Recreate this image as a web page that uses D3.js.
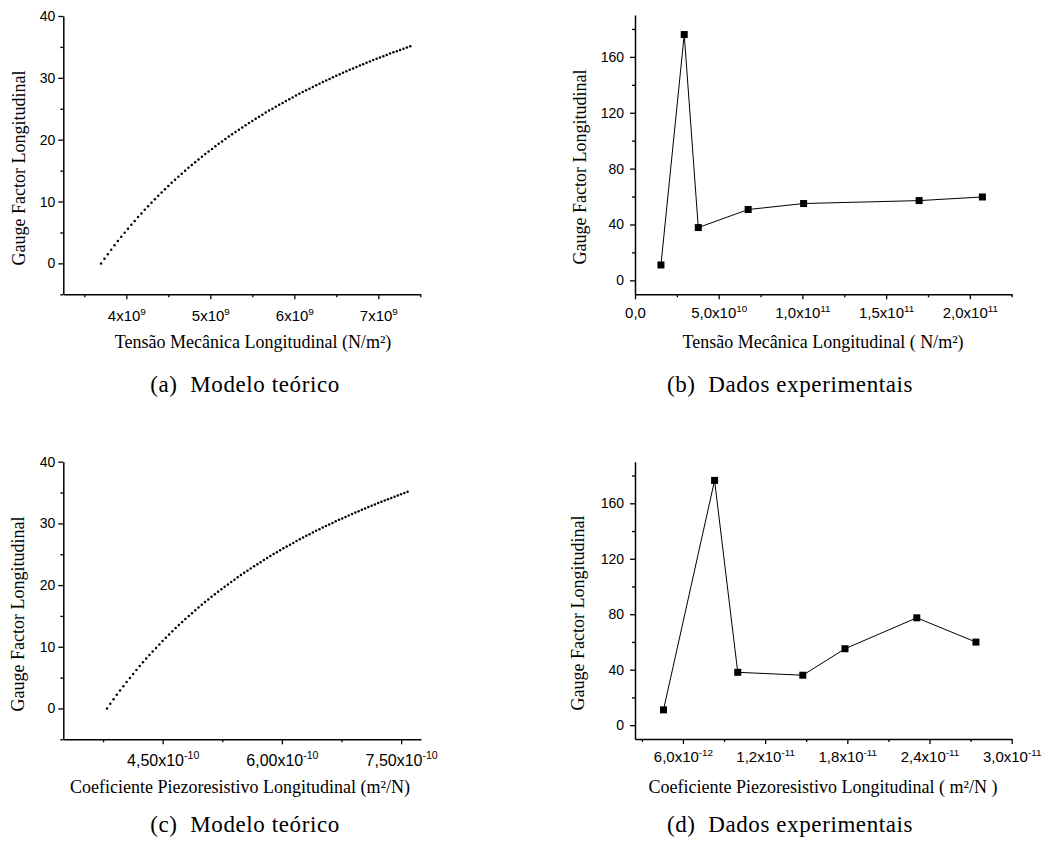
<!DOCTYPE html>
<html>
<head>
<meta charset="utf-8">
<script src="https://cdn.jsdelivr.net/npm/d3@7"></script>
<style>
  body { margin: 0; background: #fff; }
  svg { display: block; }
  .tickfont { font-family: "Liberation Sans", Arial, sans-serif; }
  .serif { font-family: "Liberation Serif", "Times New Roman", serif; }
</style>
</head>
<body>
<svg id="fig" width="1050" height="848"></svg>
<script>
// theoretical model: tension (x1e9 N/m2), piezo coefficient (x1e-10 m2/N), gauge factor
const sigma = [
  3.70,3.74,3.78,3.82,3.86,3.90,3.94,3.98,4.02,4.06,
  4.10,4.14,4.18,4.22,4.26,4.30,4.34,4.38,4.42,4.46,
  4.50,4.54,4.58,4.62,4.66,4.70,4.74,4.78,4.82,4.86,
  4.90,4.94,4.98,5.02,5.06,5.10,5.14,5.18,5.22,5.26,
  5.30,5.34,5.38,5.42,5.46,5.50,5.54,5.58,5.62,5.66,
  5.70,5.74,5.78,5.82,5.86,5.90,5.94,5.98,6.02,6.06,
  6.10,6.14,6.18,6.22,6.26,6.30,6.34,6.38,6.42,6.46,
  6.50,6.54,6.58,6.62,6.66,6.70,6.74,6.78,6.82,6.86,
  6.90,6.94,6.98,7.02,7.06,7.10,7.14,7.18,7.22,7.26,
  7.30,7.34,7.38
]
const piCoef = [
  3.800,3.841,3.882,3.923,3.964,4.006,4.047,4.088,4.129,4.170,
  4.211,4.252,4.293,4.334,4.375,4.417,4.458,4.499,4.540,4.581,
  4.622,4.663,4.704,4.745,4.786,4.828,4.869,4.910,4.951,4.992,
  5.033,5.074,5.115,5.156,5.197,5.239,5.280,5.321,5.362,5.403,
  5.444,5.485,5.526,5.567,5.608,5.650,5.691,5.732,5.773,5.814,
  5.855,5.896,5.937,5.978,6.019,6.061,6.102,6.143,6.184,6.225,
  6.266,6.307,6.348,6.389,6.430,6.472,6.513,6.554,6.595,6.636,
  6.677,6.718,6.759,6.800,6.841,6.883,6.924,6.965,7.006,7.047,
  7.088,7.129,7.170,7.211,7.252,7.294,7.335,7.376,7.417,7.458,
  7.499,7.540,7.581
]
const gfModel = [
  0.00,0.75,1.49,2.21,2.92,3.61,4.29,4.95,5.60,6.24,
  6.87,7.48,8.08,8.68,9.25,9.82,10.38,10.93,11.47,12.00,
  12.52,13.03,13.53,14.02,14.50,14.98,15.45,15.91,16.36,16.80,
  17.24,17.67,18.10,18.51,18.92,19.33,19.72,20.11,20.50,20.88,
  21.25,21.62,21.98,22.34,22.69,23.04,23.38,23.72,24.05,24.38,
  24.70,25.02,25.33,25.64,25.95,26.25,26.55,26.84,27.13,27.42,
  27.70,27.98,28.25,28.52,28.79,29.05,29.32,29.57,29.83,30.08,
  30.33,30.57,30.81,31.05,31.29,31.52,31.75,31.98,32.21,32.43,
  32.65,32.87,33.08,33.30,33.51,33.71,33.92,34.12,34.32,34.52,
  34.72,34.91,35.11
]

// experimental data
const sigmaExp = [1.55, 2.94, 3.78, 6.76, 10.07, 16.97, 20.75]   // x1e10 N/m2
const gfExpB = [11, 176, 37.8, 50.7, 55, 57.1, 59.7]
const piExp = [4.58, 8.31, 10.0, 14.75, 17.83, 23.07, 27.39]     // x1e-12 m2/N
const gfExpD = [11, 176.5, 38.1, 36, 55.1, 77.4, 59.9]

// ticks
const ticksA = [4, 5, 6, 7], labelsA = ["4x10^9", "5x10^9", "6x10^9", "7x10^9"], minorA = [3.5, 4.5, 5.5, 6.5, 7.5]
const ticksB = [0, 5, 10, 15, 20], labelsB = ["0,0", "5,0x10^10", "1,0x10^11", "1,5x10^11", "2,0x10^11"], minorB = [2.5, 7.5, 12.5, 17.5, 22.5]
const ticksC = [4.5, 6, 7.5], labelsC = ["4,50x10^-10", "6,00x10^-10", "7,50x10^-10"], minorC = [3.75, 5.25, 6.75]
const ticksD = [6, 12, 18, 24, 30], labelsD = ["6,0x10^-12", "1,2x10^-11", "1,8x10^-11", "2,4x10^-11", "3,0x10^-11"], minorD = [3, 9, 15, 21, 27]
const yTicksModel = [0, 10, 20, 30, 40], yMinorModel = [-5, 5, 15, 25, 35]
const yTicksExp = [0, 40, 80, 120, 160], yMinorExp = [20, 60, 100, 140, 180]

const svg = d3.select("#fig")

function drawPanel(p) {
    const x = d3.scaleLinear().domain(p.xDomain).range([p.left, p.right])
    const y = d3.scaleLinear().domain(p.yDomain).range([p.bottom, p.top])
    const g = svg.append("g")

    // minor ticks first
    g.append("g")
        .attr("transform", `translate(0,${p.bottom})`)
        .call(d3.axisBottom(x).tickValues(p.xMinor).tickSize(3).tickSizeOuter(0).tickFormat(""))
        .call(a => a.select(".domain").remove())
    g.append("g")
        .attr("transform", `translate(${p.left},0)`)
        .call(d3.axisLeft(y).tickValues(p.yMinor).tickSize(3).tickSizeOuter(0).tickFormat(""))
        .call(a => a.select(".domain").remove())

    const xAxis = g.append("g")
        .attr("transform", `translate(0,${p.bottom})`)
        .call(d3.axisBottom(x).tickValues(p.xTicks).tickSize(5).tickSizeOuter(0).tickPadding(p.xPad))
    xAxis.selectAll(".tick text").each(function(d) {
        const parts = p.xLabels[p.xTicks.indexOf(d)].split("^")
        const t = d3.select(this).text(null)
        t.append("tspan").text(parts[0])
        if (parts[1]) t.append("tspan").style("font-size", "0.66em").attr("dy", "-0.62em").text(parts[1])
    })
    xAxis.attr("font-family", null).attr("font-size", null)
    xAxis.selectAll(".tick text").attr("class", "tickfont").style("font-size", p.xFont + "px")

    const yAxis = g.append("g")
        .attr("transform", `translate(${p.left},0)`)
        .call(d3.axisLeft(y).tickValues(p.yTicks).tickSize(5).tickSizeOuter(0).tickPadding(p.yPad))
    yAxis.attr("font-family", null).attr("font-size", null)
    yAxis.selectAll(".tick text").attr("class", "tickfont").style("font-size", p.yFont + "px")

    g.selectAll(".domain").attr("stroke-width", 1.5)
    g.selectAll(".tick line").attr("stroke-width", 1.3)
    g.selectAll("text").attr("fill", "#000")

    const pts = p.xs.map((v, i) => [v, p.ys[i]])
    if (p.mode === "dots") {
        g.append("g").selectAll("circle")
            .data(pts)
            .join("circle")
                .attr("cx", d => x(d[0]))
                .attr("cy", d => y(d[1]))
                .attr("r", 1.25)
                .attr("fill", "#000")
    } else {
        g.append("path")
            .datum(pts)
            .attr("fill", "none")
            .attr("stroke", "#000")
            .attr("stroke-width", 1)
            .attr("d", d3.line().x(d => x(d[0])).y(d => y(d[1])))
        g.append("g").selectAll("rect")
            .data(pts)
            .join("rect")
                .attr("x", d => x(d[0]) - 3.5)
                .attr("y", d => y(d[1]) - 3.5)
                .attr("width", 7)
                .attr("height", 7)
                .attr("fill", "#000")
    }

    // axis titles
    g.append("text")
        .attr("class", "serif")
        .attr("x", p.xTitleX).attr("y", p.xTitleY)
        .attr("text-anchor", "middle")
        .style("font-size", "18px")
        .text(p.xTitle)
    g.append("text")
        .attr("class", "serif")
        .attr("transform", `translate(${p.yTitleX},${p.yTitleY}) rotate(-90)`)
        .attr("text-anchor", "middle")
        .style("font-size", "18px")
        .text(p.yTitle)

    // caption
    g.append("text")
        .attr("class", "serif")
        .attr("x", p.capX).attr("y", p.capY)
        .attr("text-anchor", "middle")
        .style("font-size", "23px")
        .style("letter-spacing", "0.6px")
        .style("white-space", "pre")
        .text(p.caption)
}

drawPanel({
    xs: sigma, ys: gfModel, mode: "dots",
    xDomain: [3.25, 7.5], yDomain: [-5, 40],
    left: 63.3, right: 420.3, top: 16, bottom: 294.3,
    xTicks: ticksA, xLabels: labelsA, xMinor: minorA, xPad: 11, xFont: 15,
    yTicks: yTicksModel, yMinor: yMinorModel, yPad: 3, yFont: 14,
    xTitle: "Tensão Mecânica Longitudinal (N/m²)", xTitleX: 253, xTitleY: 348,
    yTitle: "Gauge Factor Longitudinal", yTitleX: 25, yTitleY: 168,
    caption: "(a)  Modelo teórico", capX: 245, capY: 392
})

drawPanel({
    xs: sigmaExp, ys: gfExpB, mode: "line",
    xDomain: [0, 22.5], yDomain: [-10, 190],
    left: 635, right: 1011.7, top: 15, bottom: 294.3,
    xTicks: ticksB, xLabels: labelsB, xMinor: minorB, xPad: 8, xFont: 15,
    yTicks: yTicksExp, yMinor: yMinorExp, yPad: 6, yFont: 14,
    xTitle: "Tensão Mecânica Longitudinal ( N/m²)", xTitleX: 823, xTitleY: 348,
    yTitle: "Gauge Factor Longitudinal", yTitleX: 586, yTitleY: 167,
    caption: "(b)  Dados experimentais", capX: 790, capY: 392
})

drawPanel({
    xs: piCoef, ys: gfModel, mode: "dots",
    xDomain: [3.25, 7.75], yDomain: [-5, 40],
    left: 63.3, right: 421, top: 461.7, bottom: 739.3,
    xTicks: ticksC, xLabels: labelsC, xMinor: minorC, xPad: 10, xFont: 16,
    yTicks: yTicksModel, yMinor: yMinorModel, yPad: 3, yFont: 14,
    xTitle: "Coeficiente Piezoresistivo Longitudinal (m²/N)", xTitleX: 240, xTitleY: 793,
    yTitle: "Gauge Factor Longitudinal", yTitleX: 24, yTitleY: 614,
    caption: "(c)  Modelo teórico", capX: 245, capY: 832
})

drawPanel({
    xs: piExp, ys: gfExpD, mode: "line",
    xDomain: [2.5, 30], yDomain: [-10, 190],
    left: 635, right: 1011.7, top: 461.7, bottom: 739,
    xTicks: ticksD, xLabels: labelsD, xMinor: minorD, xPad: 7, xFont: 15,
    yTicks: yTicksExp, yMinor: yMinorExp, yPad: 6, yFont: 14,
    xTitle: "Coeficiente Piezoresistivo Longitudinal ( m²/N )", xTitleX: 823, xTitleY: 793,
    yTitle: "Gauge Factor Longitudinal", yTitleX: 584, yTitleY: 613,
    caption: "(d)  Dados experimentais", capX: 790, capY: 832
})
</script>
</body>
</html>
